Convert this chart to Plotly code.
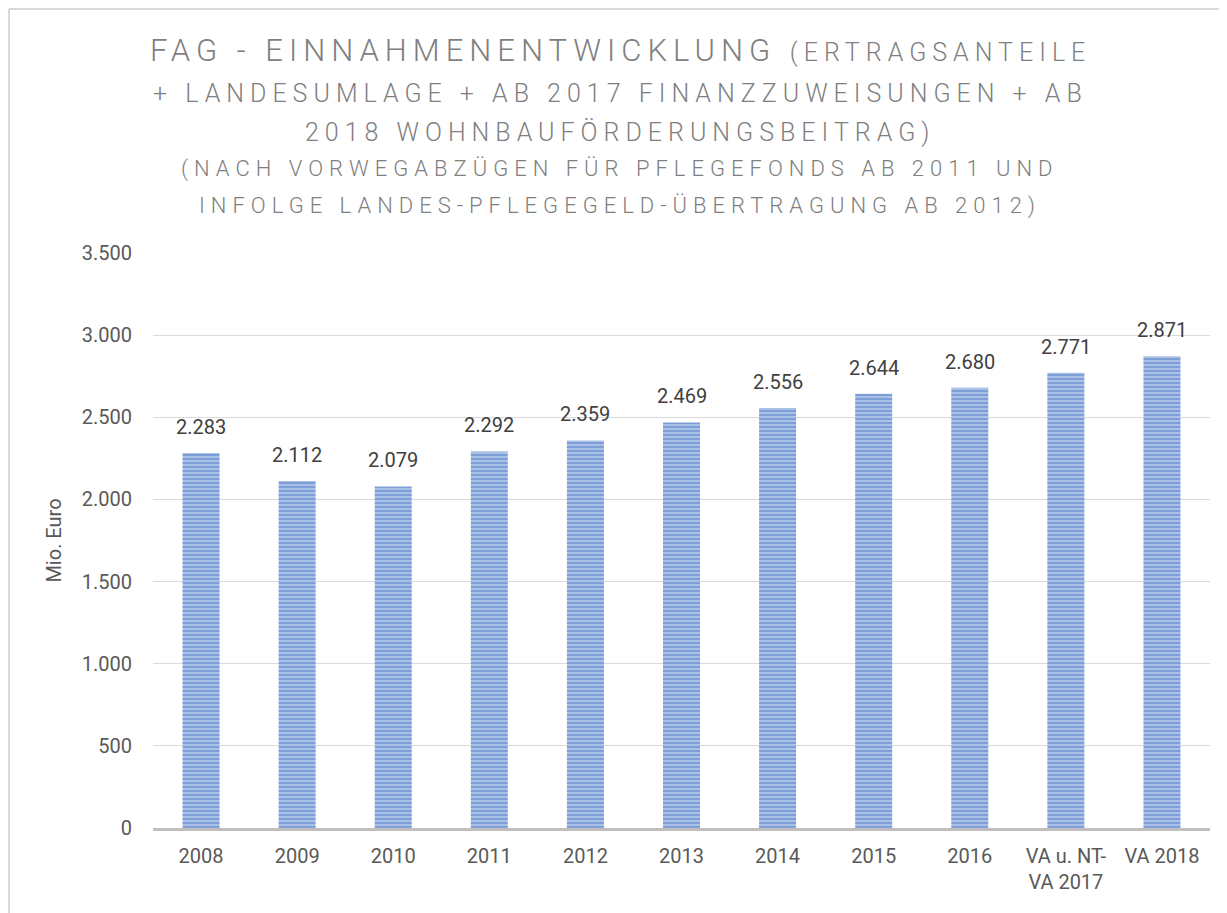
import plotly.graph_objects as go

categories = ["2008", "2009", "2010", "2011", "2012", "2013", "2014", "2015", "2016",
              "VA u. NT-<br>VA 2017", "VA 2018"]
values = [2283, 2112, 2079, 2292, 2359, 2469, 2556, 2644, 2680, 2771, 2871]
y_ticks = [0, 500, 1000, 1500, 2000, 2500, 3000, 3500]

OFF = 8  # page body margin
W, H = 1227 - OFF, 913 - OFF
ML, MR, MT, MB = 145, 17, 245, 85
FONT = "Roboto, Arial, sans-serif"

fig = go.Figure()
fig.add_trace(go.Bar(
    x=categories, y=values,
    marker=dict(
        color="#b7cbeb",
        line=dict(width=0),
        pattern=dict(shape="-", fgcolor="#4472c4", bgcolor="#b7cbeb", size=4, solidity=0.62),
    ),
    width=0.385,
    hoverinfo="x+y",
))

# value labels above the bars (category index positions on the category axis)
for i, v in enumerate(values):
    fig.add_annotation(x=i, y=v, text=f"{v:,}".replace(",", "."), showarrow=False,
                       xref="x", yref="y",
                       xanchor="center", yanchor="bottom", yshift=12,
                       font=dict(size=20, color="#404040", family=FONT))

def px_x(p):
    return (p - OFF - ML) / (W - ML - MR)

def px_y(p):
    return (H - MB - (p - OFF)) / (H - MT - MB)

# chart border (left and top visible)
fig.add_shape(type="line", xref="paper", yref="paper", x0=px_x(OFF + 1), x1=px_x(1240),
              y0=px_y(OFF + 1), y1=px_y(OFF + 1), line=dict(color="#d9d9d9", width=2))
fig.add_shape(type="line", xref="paper", yref="paper", x0=px_x(OFF + 1), x1=px_x(OFF + 1),
              y0=px_y(OFF + 1), y1=px_y(930), line=dict(color="#d9d9d9", width=2))

LS = "letter-spacing:6px"
title_lines = [
    (f"<span style='{LS}'>FAG - EINNAHMENENTWICKLUNG <span style='font-size:25px'>(ERTRAGSANTEILE</span></span>", 50, 31),
    (f"<span style='{LS}'>+ LANDESUMLAGE + AB 2017 FINANZZUWEISUNGEN + AB</span>", 93, 25),
    (f"<span style='{LS}'>2018 WOHNBAUFÖRDERUNGSBEITRAG)</span>", 132, 25),
    (f"<span style='{LS}'>(NACH VORWEGABZÜGEN FÜR PFLEGEFONDS AB 2011 UND</span>", 169, 22),
    (f"<span style='{LS}'>INFOLGE LANDES-PFLEGEGELD-ÜBERTRAGUNG AB 2012)</span>", 206, 22),
]
for txt, yc, sz in title_lines:
    fig.add_annotation(text=txt, xref="paper", yref="paper", x=px_x(620), y=px_y(yc),
                       xanchor="center", yanchor="middle", showarrow=False,
                       font=dict(size=sz, color="#7f7f7f", family=FONT, weight=300))

fig.update_layout(
    width=W, height=H,
    margin=dict(l=ML, r=MR, t=MT, b=MB),
    paper_bgcolor="white", plot_bgcolor="white",
    separators=",.",
    showlegend=False,
    font=dict(family=FONT, color="#595959", size=20),
)
fig.update_yaxes(
    range=[0, 3500], tickvals=y_ticks, tickformat=",d",
    showgrid=True, gridcolor="#d9d9d9", gridwidth=1,
    zeroline=False, showline=False, ticks="",
    ticklabelstandoff=20,
    tickfont=dict(size=20, color="#595959", family=FONT),
    title=dict(text="Mio. Euro", font=dict(size=20, color="#595959", family=FONT), standoff=14),
)
fig.update_xaxes(
    type="category", categoryorder="array", categoryarray=categories,
    range=[-0.5, len(categories) - 0.5],
    showline=True, linecolor="#bfbfbf", linewidth=2.5,
    ticks="", showgrid=False,
    ticklabelstandoff=8,
    tickfont=dict(size=20, color="#595959", family=FONT),
)

fig.write_html("out.html")
